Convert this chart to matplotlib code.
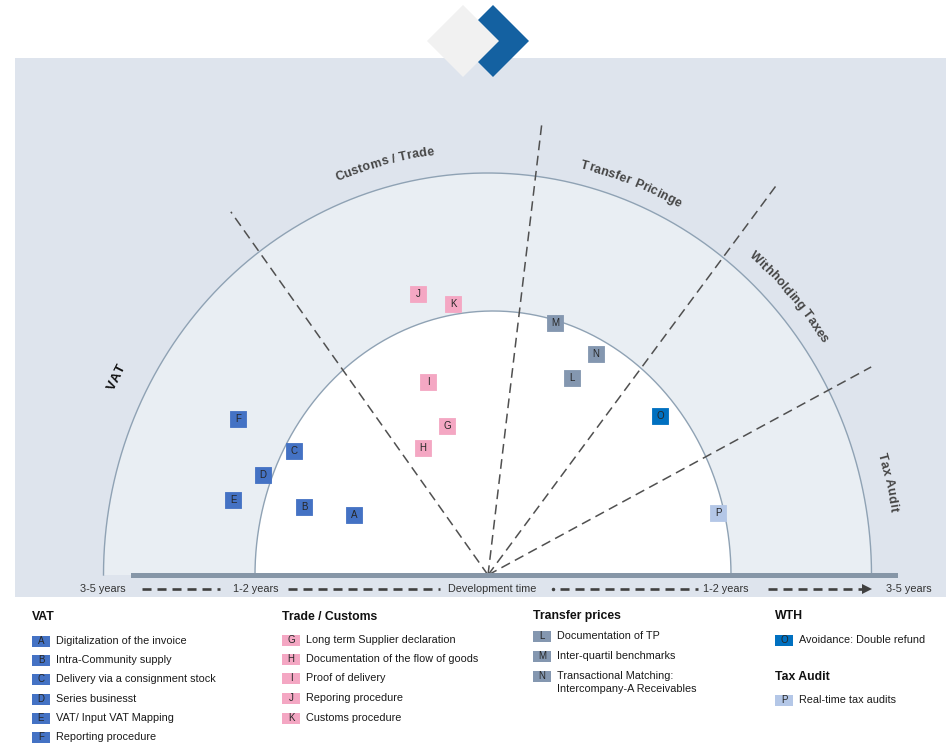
import numpy as np
import matplotlib
matplotlib.use("Agg")
import matplotlib.pyplot as plt
from matplotlib.patches import Polygon, Rectangle
from matplotlib.font_manager import FontProperties

plt.rcParams['font.family'] = ['Liberation Sans', 'DejaVu Sans']
plt.rcParams['lines.scale_dashes'] = False

W, H = 946, 744
CX, CY = 488, 575   # pixel position of the origin of the development-time axis

# ---- data ----
codes = list("ABCDEFGHIJKLMNOP")
groups = ["VAT"] * 6 + ["Trade"] * 5 + ["TP"] * 3 + ["WTH"] + ["Audit"]
# horizontal offset / height above the time axis (px of the original chart)
pos_x = [-134, -184, -194, -225, -255, -250, -41, -65, -60, -70, -35, 84, 67, 108, 172, 230]
pos_y = [60, 68, 124, 100, 75, 156, 149, 127, 193, 281, 271, 197, 252, 221, 159, 62]

group_colors = {"VAT": "#4472C4", "Trade": "#F4A7C3", "TP": "#8497B0",
                "WTH": "#0070C0", "Audit": "#B4C7E7"}

sector_labels = ["VAT", "Customs / Trade", "Transfer Pricinge", "Withholding Taxes", "Tax Audit"]
sector_angles = [153, 104.7, 69, 41.4, 12.5]
boundary_angles = [125.3, 83.2, 53.5, 28.5]
boundary_lengths = [445, 453, 488, 436]

time_labels = ["3-5 years", "1-2 years", "Development time", "1-2 years", "3-5 years"]
time_label_x = [103, 256, 492, 726, 909]

legend_titles = ["VAT", "Trade / Customs", "Transfer prices", "WTH", "Tax Audit"]
vat_items = ["Digitalization of the invoice", "Intra-Community supply",
             "Delivery via a consignment stock", "Series businesst",
             "VAT/ Input VAT Mapping", "Reporting procedure"]
trade_items = ["Long term Supplier declaration", "Documentation of the flow of goods",
               "Proof of delivery", "Reporing procedure", "Customs procedure"]
tp_items = ["Documentation of TP", "Inter-quartil benchmarks",
            "Transactional Matching:\nIntercompany-A Receivables"]
wth_items = ["Avoidance: Double refund"]
audit_items = ["Real-time tax audits"]

# ring geometry (px)
OX, A_OUT, B_OUT = -0.5, 384, 402
IX, A_IN, B_IN = 5, 238, 264


def P(x, y):
    """pixel coords of the picture -> data coords"""
    return x - CX, CY - y


fig = plt.figure(figsize=(W / 100, H / 100), dpi=100)
ax = fig.add_axes([0, 0, 1, 1])
ax.set_xlim(-CX, W - CX)
ax.set_ylim(CY - H, CY)
ax.axis("off")

# background panel
x0, y0 = P(15, 597)
ax.add_patch(Rectangle((x0, y0), W - 15, 597 - 58, facecolor="#DEE4ED", edgecolor="none", zorder=0))

# rings
t = np.linspace(0, np.pi, 400)
for ox, a, b, fc in [(OX, A_OUT, B_OUT, "#E9EEF3"), (IX, A_IN, B_IN, "white")]:
    ex, ey = ox + a * np.cos(t), b * np.sin(t)
    ax.add_patch(Polygon(np.column_stack([ex, ey]), closed=True, facecolor=fc, edgecolor="none", zorder=1))
    ax.plot(ex, ey, color="#8FA2B4", lw=1.0, zorder=2)

# sector boundaries
for ang, ln in zip(boundary_angles, boundary_lengths):
    r = np.radians(ang)
    ax.plot([0, ln * np.cos(r)], [0, ln * np.sin(r)], color="#505050", lw=1.1,
            linestyle=(0, (7, 4)), zorder=3)

# time axis bar
bx, by = P(131, 578)
ax.add_patch(Rectangle((bx, by), 898 - 131, 5, facecolor="#8696A7", edgecolor="none", zorder=4))

# markers
for c, g, x, y in zip(codes, groups, pos_x, pos_y):
    col = group_colors[g]
    ax.scatter(x, y, s=11.5 ** 2, marker="s", color=col, edgecolors=col, linewidths=0.6,
               zorder=6)
    ax.text(x, y, c, ha="center", va="center", fontsize=7, color="#262626", zorder=7)


# curved sector labels
def arc_text(s, t0, scale, size, color, spacing=0.2):
    rend = fig.canvas.get_renderer()
    fp = FontProperties(family="Liberation Sans", size=size, weight="bold")
    base = rend.get_text_width_height_descent("xx", fp, ismath=False)[0]
    adv = [rend.get_text_width_height_descent("x" + ch + "x", fp, ismath=False)[0] - base + spacing
           for ch in s]
    total = sum(adv)
    ts = np.linspace(np.radians(t0) + 1.0, np.radians(t0) - 1.0, 4000)
    ex = OX + scale * A_OUT * np.cos(ts)
    ey = scale * B_OUT * np.sin(ts)
    cum = np.concatenate([[0], np.cumsum(np.hypot(np.diff(ex), np.diff(ey)))])
    c0 = np.interp(np.radians(t0), ts[::-1], cum[::-1])
    dx, dy = np.gradient(ex), np.gradient(ey)
    ang = np.degrees(np.unwrap(np.arctan2(dy, dx)))
    pos = c0 - total / 2
    for ch, w in zip(s, adv):
        l = pos + w / 2
        px, py = np.interp(l, cum, ex), np.interp(l, cum, ey)
        rot = np.interp(l, cum, ang)
        ax.text(px, py, ch, rotation=rot, rotation_mode="anchor", ha="center", va="baseline",
                fontproperties=fp, color=color, zorder=5)
        pos += w


scales = [1.075, 1.055, 1.04, 1.045, 1.06]
for lab, a0, sc in zip(sector_labels, sector_angles, scales):
    if lab == "VAT":
        arc_text(lab, a0, sc, 9.5, "#111111", spacing=0.5)
    else:
        arc_text(lab, a0, sc, 9, "#454545")

# time axis labels
for lab, x in zip(time_labels, time_label_x):
    ax.text(*P(x, 589), lab, ha="center", va="center", fontsize=7.8, color="#333333", zorder=5)
for x1, x2 in [(142, 220), (288, 440), (560, 698), (768, 862)]:
    ax.plot([x1 - CX, x2 - CX], [CY - 589] * 2, color="#404040", lw=1.9,
            linestyle=(0, (6.5, 4.3)), zorder=5)
ax.plot(*P(553, 589), marker="o", ms=1.5, color="#404040", zorder=5)
ax.plot(*P(867, 589), marker=">", ms=7, color="#404040", markeredgewidth=0, zorder=5)

# logo
gray = [(463, 5), (499, 41), (463, 77), (427, 41)]
blue = [(493, 5), (529, 41), (493, 77), (457, 41)]
ax.add_patch(Polygon([P(*p) for p in blue], closed=True, facecolor="#1461A1", edgecolor="none", zorder=8))
ax.add_patch(Polygon([P(*p) for p in gray], closed=True, facecolor="#F1F1F1", edgecolor="none", zorder=9))


# legend
def legend_block(title, title_xy, items, item_codes, group, row_ys):
    ax.text(*P(*title_xy), title, ha="left", va="center", fontsize=8.8, fontweight="bold",
            color="#111111")
    col = group_colors[group]
    x = title_xy[0]
    for it, c, y in zip(items, item_codes, row_ys):
        rx, ry = P(x, y + 5.5)
        ax.add_patch(Rectangle((rx, ry), 18, 11, facecolor=col, edgecolor="none"))
        ax.text(*P(x + 9, y), c, ha="center", va="center", fontsize=7, color="#262626")
        for k, line in enumerate(it.split("\n")):
            ax.text(*P(x + 24, y + 12.5 * k), line, ha="left", va="center", fontsize=7.8,
                    color="#1a1a1a")


legend_block(legend_titles[0], (32, 617), vat_items, codes[0:6], "VAT",
             [641, 660, 679, 699, 718, 737])
legend_block(legend_titles[1], (282, 617), trade_items, codes[6:11], "Trade",
             [640, 659, 678, 698, 718])
legend_block(legend_titles[2], (533, 616), tp_items, codes[11:14], "TP", [636, 656, 676])
legend_block(legend_titles[3], (775, 616), wth_items, codes[14:15], "WTH", [640])
legend_block(legend_titles[4], (775, 677), audit_items, codes[15:16], "Audit", [700])

fig.savefig("out.png", dpi=100)
